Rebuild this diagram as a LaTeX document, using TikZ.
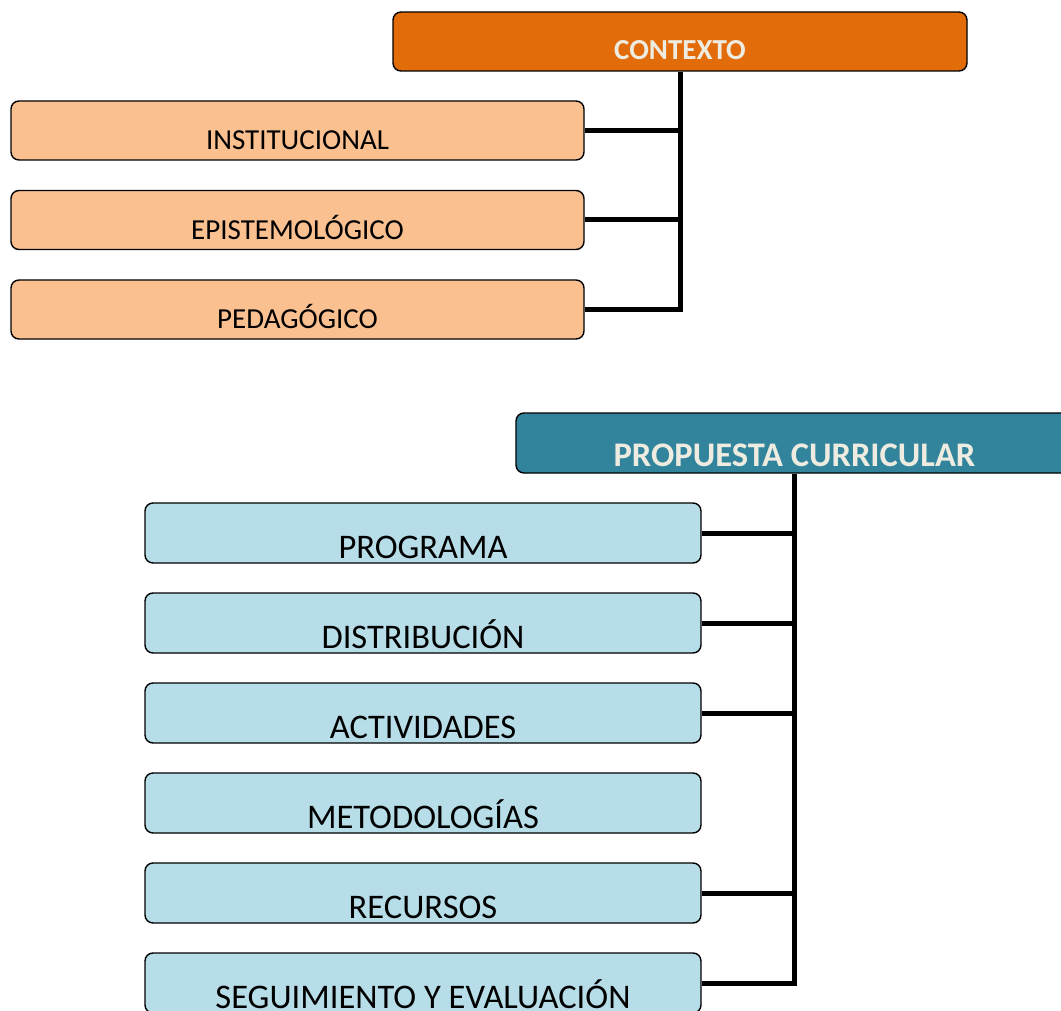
\documentclass[tikz,border=0pt]{standalone}
\usepackage{fontspec}
\setmainfont{Carlito}
\usetikzlibrary{positioning}
\definecolor{ctxdark}{HTML}{E36C0A}
\definecolor{ctxlight}{HTML}{FAC090}
\definecolor{propdark}{HTML}{31849B}
\definecolor{proplight}{HTML}{B7DEE8}
\definecolor{headtext}{HTML}{EEECE1}

\begin{document}
\begin{tikzpicture}[x=1pt,y=1pt,on grid,
    box/.style={draw=black,line width=1.4pt,rounded corners=8pt,inner sep=0pt},
    ctxhead/.style={box,fill=ctxdark,text=headtext,font=\fontsize{29}{34}\selectfont\bfseries,
      minimum width=574pt,text height=48pt,text depth=11pt},
    ctxitem/.style={box,fill=ctxlight,font=\fontsize{29}{34}\selectfont,
      minimum width=573pt,text height=49pt,text depth=10pt},
    prophead/.style={box,fill=propdark,text=headtext,font=\fontsize{34.5}{40}\selectfont\bfseries,
      minimum width=557pt,text height=53pt,text depth=7pt},
    propitem/.style={box,fill=proplight,font=\fontsize{34.5}{40}\selectfont,
      minimum width=556pt,text height=55pt,text depth=5pt},
    bus/.style={line width=5pt}]
  \clip (0,0) rectangle (1061,-1011);

  % Context block
  \node[ctxhead] (c_0) at (680,-41.5) {CONTEXTO};
  \node[ctxitem] (c_1) at (297.5,-130.5) {INSTITUCIONAL};
  \node[ctxitem] (c_2) [below=89.5pt of c_1] {EPISTEMOLÓGICO};
  \node[ctxitem] (c_3) [below=89.5pt of c_2] {PEDAGÓGICO};

  % Curricular proposal block
  \node[prophead] (p_0) at (794.5,-443) {PROPUESTA CURRICULAR};
  \node[propitem] (p_1) at (423,-533) {PROGRAMA};
  \node[propitem] (p_2) [below=90pt of p_1] {DISTRIBUCIÓN};
  \node[propitem] (p_3) [below=90pt of p_2] {ACTIVIDADES};
  \node[propitem] (p_4) [below=90pt of p_3] {METODOLOGÍAS};
  \node[propitem] (p_5) [below=90pt of p_4] {RECURSOS};
  \node[propitem] (p_6) [below=90pt of p_5] {SEGUIMIENTO Y EVALUACIÓN};

  % Bus lines
  \draw[bus] (c_0.south) -- (c_0 |- c_3) -- (c_3);   % trunk down to the last item
  \path[bus]
    (c_1) edge (c_0 |- c_1)
    (c_2) edge (c_0 |- c_2);
  \draw[bus] (p_0.south) -- (p_0 |- p_6) -- (p_6);   % trunk down to the last item
  \path[bus]
    (p_1) edge (p_0 |- p_1)
    (p_2) edge (p_0 |- p_2)
    (p_3) edge (p_0 |- p_3)    % no branch for p_4
    (p_5) edge (p_0 |- p_5);
\end{tikzpicture}
\end{document}
